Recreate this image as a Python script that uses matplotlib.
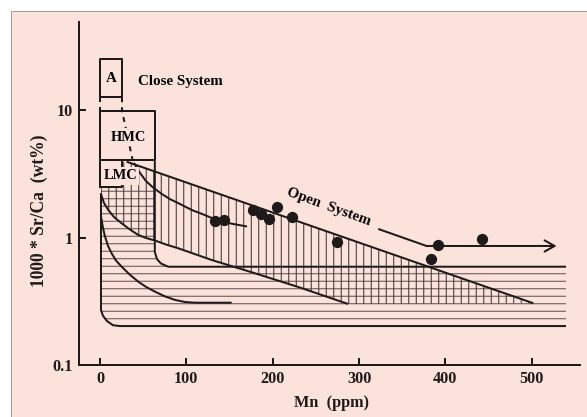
import matplotlib
matplotlib.use("Agg")
import matplotlib.pyplot as plt
from matplotlib.patches import Rectangle
from matplotlib.ticker import FixedLocator, NullLocator, FixedFormatter

# ---------------- data ----------------
# sample points (Mn ppm, 1000*Sr/Ca)
pts_mn = [133.2, 143.6, 177.2, 186.5, 195.8, 205.1, 221.8, 274.1, 382.8, 391.9, 442.8]
pts_sr = [1.35, 1.37, 1.64, 1.52, 1.40, 1.74, 1.46, 0.92, 0.68, 0.88, 0.97]

# upper straight trend line
c1_mn = [30.9, 501.9]
c1_sr = [3.93, 0.305]
# short curved trend line ending among the points
c2_mn = [39.4, 46.3, 53.3, 61.4, 71.8, 81.1, 92.7, 106.6, 119.3, 130.9, 150.6, 170.3]
c2_sr = [3.84, 3.21, 2.77, 2.47, 2.19, 2.00, 1.83, 1.64, 1.52, 1.41, 1.29, 1.22]
# middle trend line
c3_mn = [1.16, 4.63, 9.61, 16.2, 25.1, 34.7, 44.4, 53.3, 63.7, 76.4, 90.7, 129.4, 179.5, 231.6, 287.2]
c3_sr = [2.19, 1.865, 1.643, 1.448, 1.292, 1.155, 1.046, 0.991, 0.947, 0.881, 0.823, 0.666, 0.524, 0.405, 0.301]
# lower curved trend line
c4_mn = [1.16, 3.47, 5.79, 9.27, 13.55, 18.53, 25.13, 34.7, 44.4, 53.3, 63.7, 75.3, 86.9, 98.4, 110.0, 152.5]
c4_sr = [1.47, 1.19, 1.02, 0.86, 0.75, 0.66, 0.59, 0.51, 0.45, 0.41, 0.376, 0.345, 0.324, 0.312, 0.308, 0.308]

# outer (horizontal-hatched) field boundary
outer_mn = [1.16, 1.16, 3.5, 8.1, 15.1, 23.2, 539.7]
outer_sr = [2.23, 0.27, 0.243, 0.221, 0.205, 0.202, 0.202]
# inner field boundary (continuation of HMC box edge)
inner_mn = [63.5, 63.5, 66.0, 70.6, 79.1, 539.7]
inner_sr = [4.06, 0.769, 0.678, 0.625, 0.590, 0.590]

# boxes: (x0, x1, y0, y1)
box_A = (0.0, 25.5, 12.6, 25.1)
box_HMC = (0.0, 63.5, 4.06, 9.87)
box_LMC = (0.0, 25.5, 2.48, 4.06)

# dashed connectors
dash1_mn = [0.0, 0.0]
dash1_sr = [12.6, 9.87]
dash2_mn = [25.5, 25.5, 38.2]
dash2_sr = [12.6, 9.87, 3.93]

# open system arrow path
arrow_mn = [323.3, 378.2, 528.8]
arrow_sr = [1.16, 0.858, 0.858]

x_ticks = [0, 100, 200, 300, 400, 500]
y_ticks = [0.1, 1, 10]
y_ticklabels = ["0.1", "1", "10"]

# ---------------- style ----------------
DPI = 90
PINK = "#FBE2DA"
INK = "#1f1a1a"
HATCH_H = "#5e5050"
HATCH_V = "#3a3030"
LW = 1.6

plt.rcParams["font.family"] = ["Liberation Serif", "DejaVu Serif"]
plt.rcParams["font.weight"] = "bold"
plt.rcParams["hatch.linewidth"] = 0.8

fig = plt.figure(figsize=(587 / DPI, 417 / DPI), dpi=DPI, facecolor="white")
bg = Rectangle((11 / 587, -0.02), 1.0, 1 - 11 / 417 + 0.02,
               transform=fig.transFigure, facecolor=PINK,
               edgecolor="#A99C99", lw=0.8, zorder=-10)
fig.patches.append(bg)

ax = fig.add_axes([79 / 587, 52 / 417, 501 / 587, 343 / 417])
ax.set_facecolor("none")
ax.set_zorder(5)
ax.set_yscale("log")
ax.set_xlim(-24.3, 555.9)
ax.set_ylim(0.1, 49.0)

# hatched fields
h_mn = [box_LMC[0] + 1.16, inner_mn[0]] + inner_mn[1:] + outer_mn[::-1][:-1]
h_sr = [box_LMC[2], box_LMC[2]] + inner_sr[1:] + outer_sr[::-1][:-1]
ax.fill(h_mn, h_sr, facecolor="none", edgecolor=HATCH_H, lw=0, hatch="--", zorder=1)

v_mn = [1.16, box_LMC[1], box_LMC[1]] + c1_mn + c3_mn[::-1]
v_sr = [box_LMC[2], box_LMC[2], c1_sr[0]] + c1_sr + c3_sr[::-1]
ax.fill(v_mn, v_sr, facecolor="none", edgecolor=HATCH_V, lw=0, hatch="||", zorder=1)

line_kw = dict(color=INK, lw=LW, solid_capstyle="butt", zorder=3)
for xs, ys in [(c1_mn, c1_sr), (c2_mn, c2_sr), (c3_mn, c3_sr), (c4_mn, c4_sr),
               (outer_mn, outer_sr), (inner_mn, inner_sr)]:
    ax.plot(xs, ys, **line_kw)

for (x0, x1, y0, y1) in [box_A, box_HMC, box_LMC]:
    ax.plot([x0, x1, x1, x0, x0], [y0, y0, y1, y1, y0], color=INK, lw=LW, zorder=3)

ax.plot(dash1_mn, dash1_sr, color=INK, lw=LW, ls=(0, (2.5, 2.5)), zorder=3)
ax.plot(dash2_mn, dash2_sr, color=INK, lw=LW, ls=(0, (2.5, 2.5)), zorder=3)

# arrow
ax.plot(arrow_mn[:2], arrow_sr[:2], color=INK, lw=LW, zorder=3)
ax.annotate("", xy=(arrow_mn[2], arrow_sr[2]), xytext=(arrow_mn[1], arrow_sr[1]),
            arrowprops=dict(arrowstyle="->,head_length=0.8,head_width=0.45",
                            color=INK, lw=LW, mutation_scale=10,
                            shrinkA=0, shrinkB=0), zorder=3)

ax.plot(pts_mn, pts_sr, "o", color=INK, ms=8, mec=INK, zorder=5)

# labels
tb = dict(boxstyle="square,pad=0.15", facecolor=PINK, edgecolor="none")
ax.text((box_A[0] + box_A[1]) / 2, 17.8, "A", ha="center", va="center",
        fontsize=12, fontweight="bold", zorder=6)
ax.text(44, 16.7, "Close System", ha="left", va="center", fontsize=12,
        fontweight="bold", zorder=6)
ax.text(32.4, 6.14, "HMC", ha="center", va="center", fontsize=11.5,
        fontweight="bold", bbox=tb, zorder=6)
ax.text(23.6, 3.04, "LMC", ha="center", va="center", fontsize=11.5,
        fontweight="bold", bbox=tb, zorder=6)
ax.text(264.4, 1.744, "Open  System", ha="center", va="center", rotation=-20,
        rotation_mode="anchor", fontsize=12, fontweight="bold", zorder=6)

# axes
for s in ["top", "right"]:
    ax.spines[s].set_visible(False)
for s in ["left", "bottom"]:
    ax.spines[s].set_linewidth(LW)
    ax.spines[s].set_color(INK)

ax.xaxis.set_major_locator(FixedLocator(x_ticks))
ax.yaxis.set_major_locator(FixedLocator(y_ticks))
ax.yaxis.set_major_formatter(FixedFormatter(y_ticklabels))
ax.yaxis.set_minor_locator(NullLocator())
ax.tick_params(direction="in", length=5.5, width=LW, color=INK, labelsize=13,
               pad=5, labelcolor=INK)
for lab in ax.get_xticklabels() + ax.get_yticklabels():
    lab.set_fontweight("bold")

ax.set_xlabel("Mn  (ppm)", fontsize=13, fontweight="bold", color=INK)
ax.set_ylabel("1000 * Sr/Ca  (wt%)", fontsize=14, fontweight="bold", color=INK)
ax.xaxis.set_label_coords(0.504, -0.088)
ax.yaxis.set_label_coords(-0.062, 0.45)

fig.savefig("out.png", dpi=DPI, facecolor=fig.get_facecolor())
